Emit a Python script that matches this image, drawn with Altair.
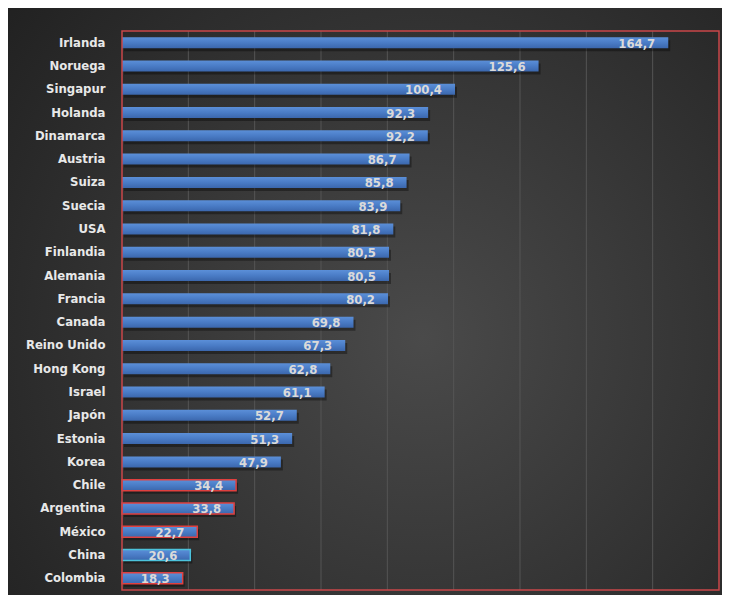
import altair as alt
import pandas as pd

countries = ["Irlanda", "Noruega", "Singapur", "Holanda", "Dinamarca", "Austria", "Suiza",
             "Suecia", "USA", "Finlandia", "Alemania", "Francia", "Canada", "Reino Unido",
             "Hong Kong", "Israel", "Japón", "Estonia", "Korea", "Chile", "Argentina",
             "México", "China", "Colombia"]
values = [164.7, 125.6, 100.4, 92.3, 92.2, 86.7, 85.8, 83.9, 81.8, 80.5, 80.5, 80.2,
          69.8, 67.3, 62.8, 61.1, 52.7, 51.3, 47.9, 34.4, 33.8, 22.7, 20.6, 18.3]
outline = ["none"] * 19 + ["latam", "latam", "latam", "china", "latam"]
grid_values = [20, 40, 60, 80, 100, 120, 140, 160]

W, H = 597, 559
PADL, PADT, PADR, PADB = 114, 23, 3, 5
FONT = "Liberation Sans Narrow, DejaVu Sans Condensed, sans-serif"

df = pd.DataFrame({"country": countries, "value": values, "outline": outline})
df["label"] = [f"{v:.1f}".replace(".", ",") for v in values]

xscale = alt.Scale(domain=[0, 180], nice=False, zero=True)
yscale = alt.Scale(domain=countries, paddingInner=0.5, paddingOuter=0.25)
yaxis = alt.Axis(title=None, ticks=False, domain=False, grid=False, labelPadding=17,
                 labelColor="#e8e8e8", labelFont=FONT, labelFontSize=13,
                 labelFontWeight="bold", zindex=1)


def Y():
    return alt.Y("country:N", scale=yscale, axis=yaxis, title=None)


def X():
    return alt.X("value:Q", scale=xscale, axis=None)


one = pd.DataFrame({"a": [0]})

bg = alt.Chart(one).mark_rect(
    fill={"gradient": "radial", "x1": 0.58, "y1": 0.55, "r1": 0, "x2": 0.58, "y2": 0.55, "r2": 0.75,
          "stops": [{"offset": 0, "color": "#4a4a4a"}, {"offset": 1, "color": "#212121"}]},
).encode(
    x=alt.value(-PADL), x2=alt.value(W + PADR), y=alt.value(-PADT), y2=alt.value(H + PADB)
)

grid = alt.Chart(pd.DataFrame({"g": grid_values})).mark_rule(
    color="#555555", strokeWidth=1
).encode(x=alt.X("g:Q", scale=xscale, axis=None))

shadow = alt.Chart(df).mark_bar(size=11, color="#000000", opacity=0.35, xOffset=2, yOffset=3).encode(
    x=X(), y=Y(),
)

bars = alt.Chart(df).mark_bar(
    size=11,
    fill={"gradient": "linear", "x1": 0, "y1": 0, "x2": 0, "y2": 1,
          "stops": [{"offset": 0, "color": "#5b8fd8"}, {"offset": 0.5, "color": "#4a7cc6"},
                    {"offset": 1, "color": "#3b67ad"}]},
    strokeWidth=1.5,
).encode(
    x=X(), y=Y(),
    stroke=alt.Stroke("outline:N",
                      scale=alt.Scale(domain=["none", "latam", "china"],
                                      range=["transparent", "#e0403f", "#4cc3dc"]),
                      legend=None),
)

labels = alt.Chart(df).mark_text(
    align="right", baseline="middle", dx=-13, dy=1, font=FONT, fontSize=13,
    fontWeight="bold", color="#dadada"
).encode(
    x=X(), y=Y(),
    text="label:N",
)

border = alt.Chart(one).mark_rect(fill=None, stroke="#c9474a", strokeWidth=1.5).encode(
    x=alt.value(0), x2=alt.value(W), y=alt.value(0), y2=alt.value(H)
)

chart = alt.layer(bg, grid, shadow, bars, labels, border).properties(
    width=W, height=H,
    autosize=alt.AutoSizeParams(type="none"),
    padding={"left": PADL, "top": PADT, "right": PADR, "bottom": PADB},
    background="#262626",
).configure_view(stroke=None)

chart.save("out.html", embed_options={"renderer": "svg", "actions": False})
